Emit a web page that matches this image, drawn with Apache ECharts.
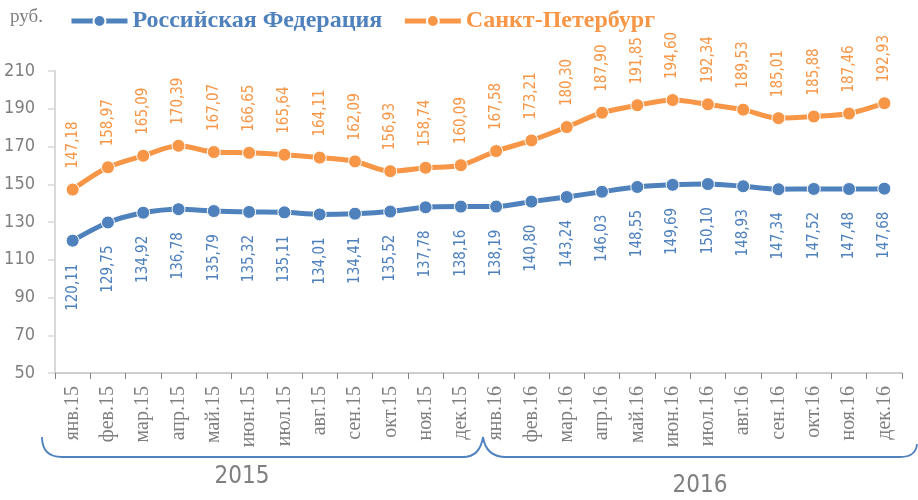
<!DOCTYPE html>
<html><head><meta charset="utf-8">
<script src="https://cdn.jsdelivr.net/npm/echarts@6/dist/echarts.min.js"></script>
<style>html,body{margin:0;padding:0;background:#fff}#c{width:918px;height:500px}</style>
</head><body><div id="c"></div>
<script>
var categories = ['янв.15','фев.15','мар.15','апр.15','май.15','июн.15','июл.15','авг.15','сен.15','окт.15','ноя.15','дек.15',
                  'янв.16','фев.16','мар.16','апр.16','май.16','июн.16','июл.16','авг.16','сен.16','окт.16','ноя.16','дек.16'];
var seriesNames = ['Российская Федерация', 'Санкт-Петербург'];
var rf = [120.11,129.75,134.92,136.78,135.79,135.32,135.11,134.01,134.41,135.52,137.78,138.16,
          138.19,140.80,143.24,146.03,148.55,149.69,150.10,148.93,147.34,147.52,147.48,147.68];
var spb = [147.18,158.97,165.09,170.39,167.07,166.65,165.64,164.11,162.09,156.93,158.74,160.09,
           167.58,173.21,180.30,187.90,191.85,194.60,192.34,189.53,185.01,185.88,187.46,192.93];
var yTicks = {min: 50, max: 210, interval: 20};
var years = ['2015', '2016'];
var unit = 'руб.';

var BLUE = '#4f81bd', ORANGE = '#f79646', GRAY = '#7f7f7f';
var NUMFONT = "'Liberation Sans Narrow','DejaVu Sans Condensed',sans-serif";
var SERIF = "'Liberation Serif','DejaVu Serif',serif";
function fmt(p){ return p.value.toFixed(2).replace('.', ','); }
var braceStyle = {stroke: BLUE, fill: null, lineWidth: 1.8};

var chart = echarts.init(document.getElementById('c'));
chart.setOption({
  animation: false,
  grid: {left: 55, right: 16, top: 71, bottom: 127},
  legend: {
    left: 64, top: 4, itemWidth: 56, itemHeight: 15, itemGap: 20,
    textStyle: {fontFamily: SERIF, fontWeight: 'bold', fontSize: 24},
    data: [
      {name: seriesNames[0], textStyle: {color: BLUE}, lineStyle: {width: 5}},
      {name: seriesNames[1], textStyle: {color: ORANGE}, lineStyle: {width: 5}}
    ]
  },
  xAxis: {
    type: 'category', data: categories, boundaryGap: true,
    axisLine: {lineStyle: {color: '#bfbfbf', width: 1.5}},
    axisTick: {show: true, length: 6, lineStyle: {color: '#808080'}},
    axisLabel: {interval: 0, rotate: 90, color: GRAY, fontFamily: SERIF, fontSize: 20, margin: 13}
  },
  yAxis: {
    type: 'value', min: yTicks.min, max: yTicks.max, interval: yTicks.interval,
    axisLine: {show: true, lineStyle: {color: '#d9d9d9', width: 2}},
    axisTick: {show: true, inside: false, length: 7, lineStyle: {color: '#d9d9d9', width: 1.5}},
    splitLine: {show: false},
    axisLabel: {color: GRAY, fontFamily: NUMFONT, fontSize: 18, margin: 20}
  },
  series: [
    {
      name: seriesNames[0], type: 'line', data: rf, smooth: 0.3,
      symbol: 'circle', symbolSize: 13,
      lineStyle: {color: BLUE, width: 5},
      itemStyle: {color: BLUE, borderColor: '#fff', borderWidth: 1},
      label: {show: true, position: 'bottom', distance: 16, rotate: 90, align: 'right', verticalAlign: 'middle',
              color: BLUE, fontFamily: NUMFONT, fontSize: 15, formatter: fmt}
    },
    {
      name: seriesNames[1], type: 'line', data: spb, smooth: 0.3,
      symbol: 'circle', symbolSize: 13,
      lineStyle: {color: ORANGE, width: 5},
      itemStyle: {color: ORANGE, borderColor: '#fff', borderWidth: 1},
      label: {show: true, position: 'top', distance: 14, rotate: 90, align: 'left', verticalAlign: 'middle',
              color: ORANGE, fontFamily: NUMFONT, fontSize: 15, formatter: fmt}
    }
  ],
  graphic: [
    {type: 'text', left: 10, top: 8, style: {text: unit, fill: GRAY, font: "19px 'Liberation Serif', serif"}},
    {type: 'bezierCurve', shape: {x1: 42, y1: 437, cpx1: 42, cpy1: 457, x2: 62, y2: 457}, style: braceStyle},
    {type: 'line', shape: {x1: 62, y1: 457, x2: 463, y2: 457}, style: braceStyle},
    {type: 'bezierCurve', shape: {x1: 463, y1: 457, cpx1: 480, cpy1: 457, x2: 483, y2: 437}, style: braceStyle},
    {type: 'bezierCurve', shape: {x1: 483, y1: 437, cpx1: 486, cpy1: 457, x2: 506, y2: 457}, style: braceStyle},
    {type: 'line', shape: {x1: 506, y1: 457, x2: 900, y2: 457}, style: braceStyle},
    {type: 'bezierCurve', shape: {x1: 900, y1: 457, cpx1: 916, cpy1: 457, x2: 917, y2: 444}, style: braceStyle},
    {type: 'text', x: 242, y: 477, style: {text: years[0], fill: GRAY, align: 'center', verticalAlign: 'middle',
      font: "24px 'Liberation Sans Narrow','DejaVu Sans Condensed',sans-serif"}},
    {type: 'text', x: 700, y: 486, style: {text: years[1], fill: GRAY, align: 'center', verticalAlign: 'middle',
      font: "24px 'Liberation Sans Narrow','DejaVu Sans Condensed',sans-serif"}}
  ]
});
</script></body></html>
